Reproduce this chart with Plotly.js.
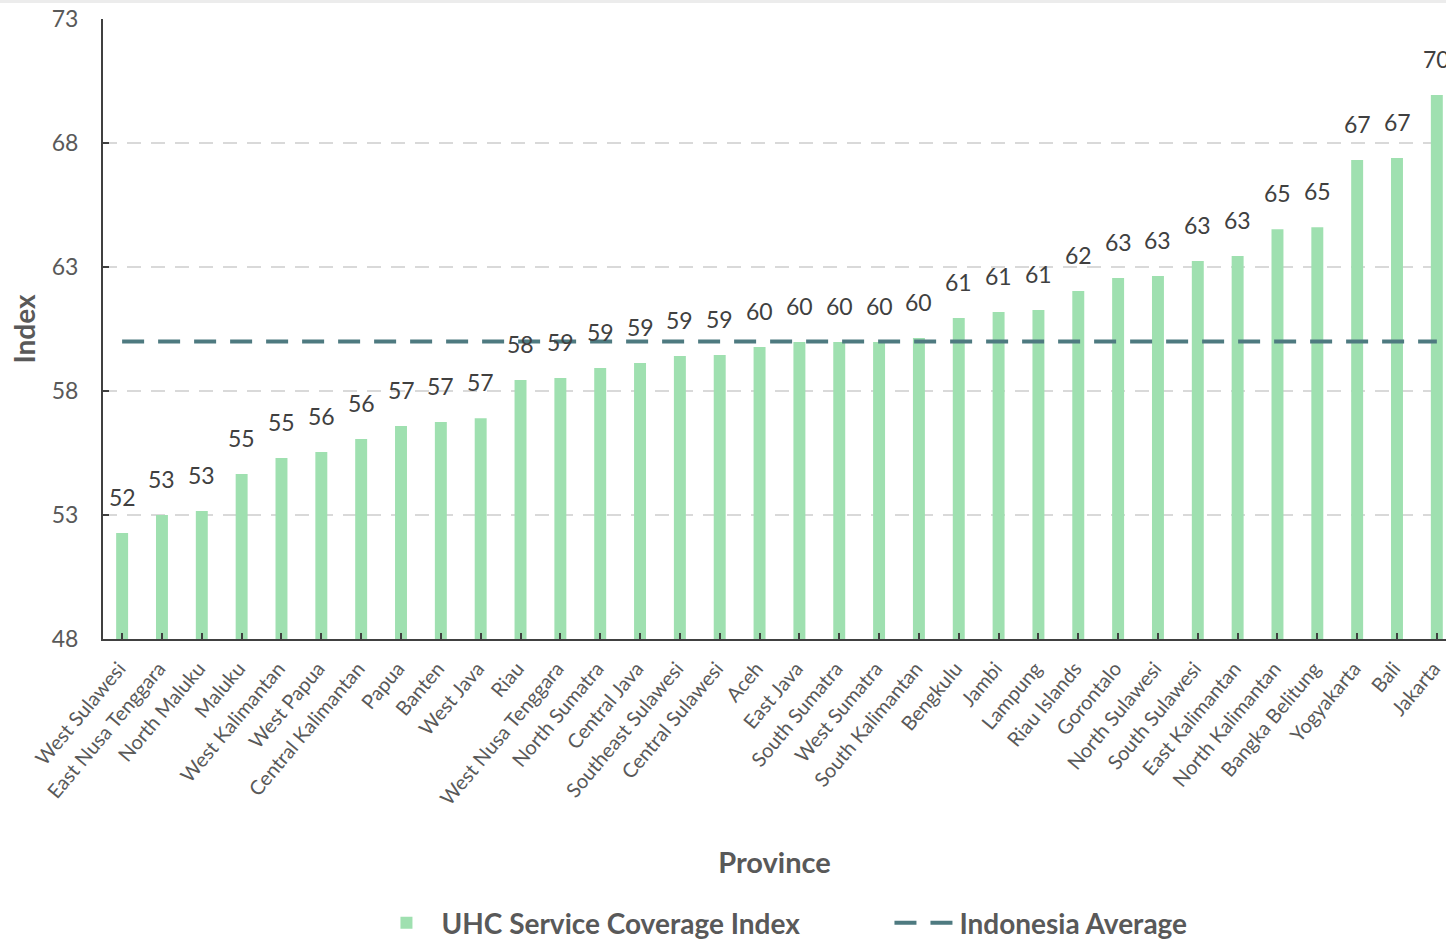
<!DOCTYPE html>
<html>
<head>
<meta charset="utf-8">
<script src="https://cdn.plot.ly/plotly-3.0.1.min.js"></script>
<style>
html,body{margin:0;padding:0;background:#fff;overflow:hidden;}
#chart{width:1446px;height:949px;}
</style>
</head>
<body>
<div id="chart"></div>
<script>
const provinces = ["West Sulawesi","East Nusa Tenggara","North Maluku","Maluku","West Kalimantan","West Papua","Central Kalimantan","Papua","Banten","West Java","Riau","West Nusa Tenggara","North Sumatra","Central Java","Southeast Sulawesi","Central Sulawesi","Aceh","East Java","South Sumatra","West Sumatra","South Kalimantan","Bengkulu","Jambi","Lampung","Riau Islands","Gorontalo","North Sulawesi","South Sulawesi","East Kalimantan","North Kalimantan","Bangka Belitung","Yogyakarta","Bali","Jakarta"];
const uhcIndex = [52.27,53.0,53.16,54.65,55.3,55.54,56.06,56.59,56.75,56.9,58.44,58.52,58.93,59.13,59.41,59.45,59.77,59.98,59.98,59.98,60.14,60.94,61.19,61.27,62.03,62.56,62.64,63.24,63.44,64.52,64.6,67.31,67.4,69.94];
const indonesiaAverage = 60.0;
const yTicks = [48,53,58,63,68,73];

const FONT = "Lato, 'Open Sans', sans-serif";
const TXT = "#595959";

const barTrace = {
  type: "bar",
  x: provinces,
  y: uhcIndex,
  name: "UHC Service Coverage Index",
  marker: {color: "#9fe0b0"},
  width: 0.3,
  hoverinfo: "x+y"
};

const avgTrace = {
  type: "scatter",
  mode: "lines",
  x: provinces,
  y: provinces.map(() => indonesiaAverage),
  name: "Indonesia Average",
  line: {color: "#4e7a80", width: 4, dash: "22px,14px"},
  hoverinfo: "skip"
};

const labelAnnotations = provinces.map((p, i) => ({
  x: p, y: uhcIndex[i], xref: "x", yref: "y",
  text: String(Math.round(uhcIndex[i])),
  showarrow: false, yanchor: "middle", yshift: 36,
  font: {family: FONT, size: 23, color: "#404040"}
}));

const layout = {
  width: 1446, height: 949,
  margin: {l: 103, r: 0, t: 19, b: 310},
  paper_bgcolor: "#ffffff",
  plot_bgcolor: "#ffffff",
  font: {family: FONT, color: TXT},
  bargap: 0.7,
  showlegend: true,
  legend: {
    orientation: "h", x: 0.5856, xanchor: "center", y: -0.458, yanchor: "middle",
    font: {family: FONT, size: 28, color: TXT, weight: "bold"},
    itemwidth: 60, entrywidth: 443, traceorder: "normal"
  },
  xaxis: {
    type: "category",
    range: [-0.48, 33.23],
    showline: true, linecolor: "#404040", linewidth: 2,
    ticks: "inside", ticklen: 6, tickwidth: 2, tickcolor: "#404040",
    tickangle: -50,
    ticklabelstandoff: 8,
    ticklabelshift: -3,
    tickfont: {family: FONT, size: 20, color: TXT},
    showgrid: false,
    title: {text: "Province", font: {family: FONT, size: 29, color: TXT, weight: "bold"}, standoff: 44},
    automargin: false
  },
  yaxis: {
    range: [48, 73],
    tickvals: yTicks,
    ticktext: yTicks.map(String),
    showline: true, linecolor: "#404040", linewidth: 2,
    ticks: "inside", ticklen: 6, tickwidth: 2, tickcolor: "#404040",
    tickfont: {family: FONT, size: 23, color: TXT},
    ticklabelstandoff: 18,
    showgrid: true, gridcolor: "#d9d9d9", gridwidth: 2, griddash: "14px,10px",
    zeroline: false,
    title: {text: "Index", font: {family: FONT, size: 28, color: TXT, weight: "bold"}, standoff: 8},
    automargin: false
  },
  annotations: labelAnnotations,
  shapes: [
    {type: "rect", xref: "paper", yref: "paper", x0: -0.1, x1: 1.01, y0: 1 + 16/620, y1: 1 + 19.5/620,
     fillcolor: "#ececec", line: {width: 0}, layer: "below"}
  ]
};

Plotly.newPlot("chart", [barTrace, avgTrace], layout, {displayModeBar: false, staticPlot: true});
</script>
</body>
</html>
